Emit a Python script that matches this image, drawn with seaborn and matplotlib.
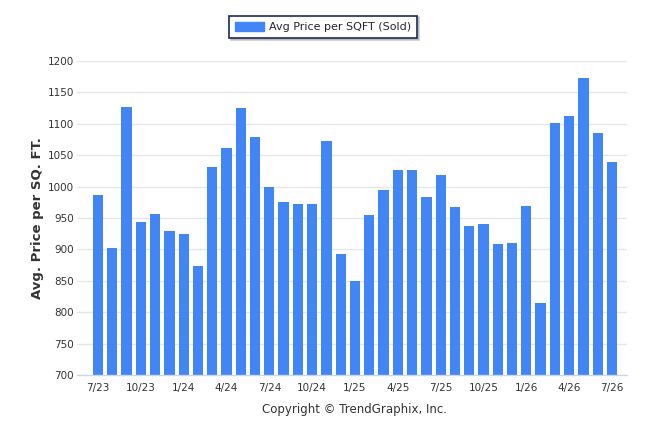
import matplotlib
matplotlib.use("Agg")
import matplotlib.pyplot as plt
import matplotlib.patches as mpatches
import seaborn as sns
import pandas as pd

months = [
    "7/23", "8/23", "9/23", "10/23", "11/23", "12/23", "1/24", "2/24", "3/24",
    "4/24", "5/24", "6/24", "7/24", "8/24", "9/24", "10/24", "11/24", "12/24",
    "1/25", "2/25", "3/25", "4/25", "5/25", "6/25", "7/25", "8/25", "9/25",
    "10/25", "11/25", "12/25", "1/26", "2/26", "3/26", "4/26", "5/26", "6/26", "7/26",
]
price_sqft = [
    987, 902, 1127, 944, 956, 929, 924, 874, 1031,
    1062, 1125, 1079, 1000, 975, 972, 972, 1073, 893,
    850, 955, 995, 1026, 1026, 983, 1018, 968, 937,
    940, 909, 910, 969, 815, 1101, 1112, 1173, 1085, 1039,
]
yticks = list(range(700, 1201, 50))
bar_color = "#4285F4"

df = pd.DataFrame({"month": months, "price": price_sqft})

sns.set_theme(style="white")
plt.rcParams["font.family"] = ["DejaVu Sans"]

fig = plt.figure(figsize=(6.46, 4.34), dpi=100)
ax = fig.add_axes([77 / 646, 59 / 434, 550 / 646, 314 / 434])

sns.barplot(data=df, x="month", y="price", order=months, color=bar_color,
            width=0.72, saturation=1, linewidth=0, ax=ax)

ax.set_ylim(700, 1200)
ax.set_xlim(-1.47, 37.05)
ax.set_yticks(yticks)
ax.set_yticklabels([str(t) for t in yticks], fontsize=7.5, color="#333333")
xt = list(range(0, len(months), 3))
ax.set_xticks(xt)
ax.set_xticklabels([months[i] for i in xt], fontsize=7.5, color="#333333")
ax.tick_params(axis="y", length=0, pad=2)
ax.tick_params(axis="x", length=4, width=0.8, color="#ccd6eb", direction="out", pad=2)
ax.yaxis.grid(True, color="#e6e6e6", linewidth=1)
ax.set_axisbelow(True)
for s in ["top", "right", "left"]:
    ax.spines[s].set_visible(False)
ax.spines["bottom"].set_color("#ccd6eb")
ax.spines["bottom"].set_linewidth(1)
ax.set_xlabel("")
ax.set_ylabel("Avg. Price per SQ. FT.", fontsize=9.5, fontweight="bold",
              color="#333333", labelpad=3)

handle = mpatches.Patch(color=bar_color, label="Avg Price per SQFT (Sold)")
leg = fig.legend(handles=[handle], loc="center", bbox_to_anchor=(0.5, 0.938),
                 frameon=True, fancybox=False,
                 shadow={"ox": 1.2, "oy": -1.2, "color": "#aaaaaa", "alpha": 0.6},
                 fontsize=8, handlelength=2.6, handleheight=0.9, borderpad=0.55,
                 handletextpad=0.4)
leg.get_frame().set_edgecolor("#1c2a55")
leg.get_frame().set_linewidth(1.2)

fig.text(355 / 646, 1 - 410 / 434, "Copyright \u00a9 TrendGraphix, Inc.",
         ha="center", va="center", fontsize=8.5, color="#333333")

fig.savefig("out.png", dpi=100)
